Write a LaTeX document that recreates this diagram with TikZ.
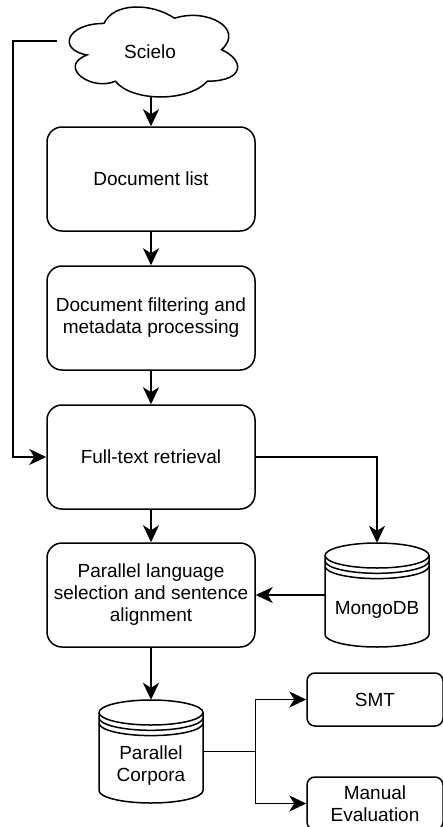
\documentclass[tikz,border=0pt]{standalone}
\usepackage{fontspec}
\setmainfont{Liberation Sans}
\usetikzlibrary{arrows.meta}
\newcommand\figfont{\fontsize{19}{22}\selectfont}
\newcommand\dbcyl[3]{%
  \draw[dbline, fill=white] (#1-52,#2+12.5) -- (#1-52,#3-12.5)
    arc[start angle=180,end angle=360,x radius=52pt,y radius=12.5pt]
    -- (#1+52,#2+12.5)
    arc[start angle=0,end angle=180,x radius=52pt,y radius=12.5pt] -- cycle;
  \draw[dbline] (#1-52,#2+12.5) arc[start angle=180,end angle=360,x radius=52pt,y radius=12.5pt];
  \draw[dbline] (#1-52,#2+17.8) arc[start angle=180,end angle=360,x radius=52pt,y radius=12.5pt];
  \draw[dbline] (#1-52,#2+23.1) arc[start angle=180,end angle=360,x radius=52pt,y radius=12.5pt];
}
\begin{document}
\begin{tikzpicture}[x=1pt,y=-1pt,
  box/.style={draw, line width=1.5pt, rounded corners=15pt, minimum width=208pt,
    minimum height=104pt, align=center, inner sep=0pt, font=\figfont},
  smallbox/.style={draw, line width=1.5pt, rounded corners=8pt, minimum width=136pt,
    minimum height=53pt, align=center, inner sep=0pt, font=\figfont},
  dbbox/.style={inner sep=0pt, minimum width=104pt, minimum height=104pt},
  dbline/.style={line width=1.5pt},
  lbl/.style={font=\figfont, align=center, inner sep=0pt},
  thinline/.style={line width=1.4pt},
  thinarrow/.style={line width=1.4pt, -{Stealth[length=17pt,width=16pt,inset=5pt]}},
  fatarrow/.style={line width=2.4pt, -{Stealth[length=17pt,width=16pt,inset=5pt]}},
]
\useasboundingbox (0,0) rectangle (443,827);

% cloud
\begin{scope}[shift={(57,-2.8)}, x=188pt, y=-105pt]
  \draw[line width=1.5pt, fill=white]
    (0.25,0.25) .. controls (0.05,0.25) and (0,0.5) .. (0.16,0.55)
    .. controls (0,0.66) and (0.18,0.9) .. (0.31,0.8)
    .. controls (0.4,1) and (0.7,1) .. (0.8,0.8)
    .. controls (1,0.8) and (1,0.6) .. (0.875,0.5)
    .. controls (1,0.3) and (0.8,0.1) .. (0.625,0.2)
    .. controls (0.5,0.05) and (0.3,0.05) .. (0.25,0.25) -- cycle;
\end{scope}
\node[lbl] (scielo) at (150,52) {Scielo};
\coordinate (cloudL) at (57,41);
\coordinate (cloudB) at (151,97);

% boxes
\node[box] (b1) at (151,179) {Document list};
\node[box] (b2) at (151,318) {Document filtering and\\metadata processing};
\node[box] (b3) at (151,457) {Full-text retrieval};
\node[box] (b4) at (151,595) {Parallel language\\selection and sentence\\alignment};
\node[smallbox] (smt) at (375,699.5) {SMT};
\node[smallbox] (man) at (375,803.5) {Manual\\Evaluation};

% databases
\node[dbbox] (mongo) at (377,595) {};
\dbcyl{377}{543}{647}
\node[lbl] (mongolbl) at (377,610) {MongoDB};
\node[dbbox, minimum height=103pt] (pc) at (151,751.5) {};
\dbcyl{151}{700}{803}
\node[lbl] (pclbl) at (151,766) {Parallel\\Corpora};

% connectors
\draw[fatarrow] (cloudB) -- (b1.north);
\draw[thinarrow] (b1.south) -- (b2.north);
\draw[fatarrow] (b2.south) -- (b3.north);
\draw[fatarrow] (b3.south) -- (b4.north);
\draw[thinarrow] (cloudL) -- ++(-44,0) |- (b3.west);
\draw[thinarrow] (b3.east) -| (mongo.north);
\draw[thinarrow] (mongo.west) -- (b4.east);
\draw[fatarrow] (b4.south) -- (pc.north);
\draw[thinline] (pc.east) -- ++(52,0) coordinate (split);
\draw[thinarrow] (split) |- (smt.west);
\draw[thinarrow] (split) |- (man.west);
\end{tikzpicture}
\end{document}
